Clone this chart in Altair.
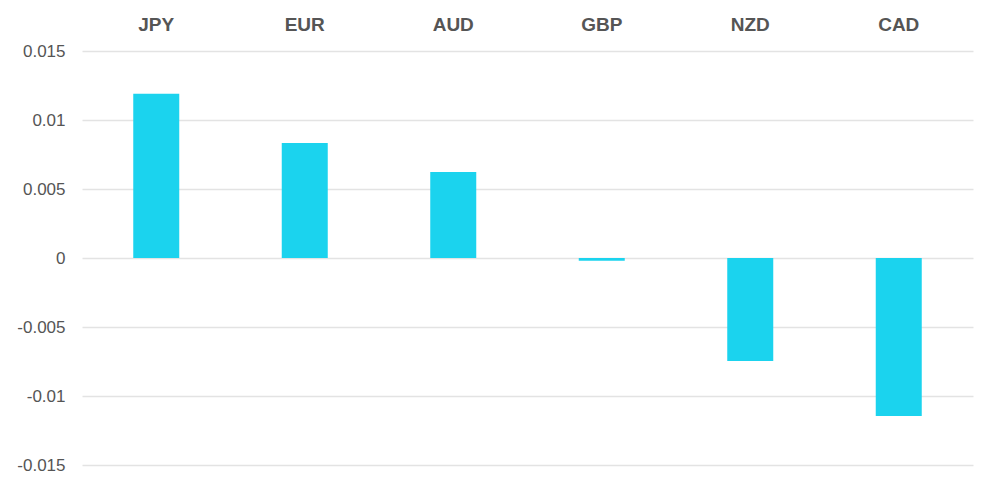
import altair as alt
import pandas as pd

currencies = ["JPY", "EUR", "AUD", "GBP", "NZD", "CAD"]
values = [0.0119, 0.00833, 0.00623, -0.0002, -0.00746, -0.01145]

df = pd.DataFrame({"currency": currencies, "value": values})

chart = alt.Chart(df).mark_bar(color="#1bd3ee", size=46).encode(
    x=alt.X("currency:N", sort=currencies,
            axis=alt.Axis(orient="top", title=None, labelAngle=0, domain=False, ticks=False,
                          labelFont="Liberation Sans", labelFontSize=19, labelFontWeight="bold",
                          labelColor="#555555", labelPadding=17)),
    y=alt.Y("value:Q", scale=alt.Scale(domain=[-0.015, 0.015], nice=False),
            axis=alt.Axis(title=None, values=[-0.015, -0.01, -0.005, 0, 0.005, 0.01, 0.015],
                          labelExpr="'' + datum.value",
                          domain=False, ticks=False, grid=True, gridColor="#e3e3e3", gridWidth=1.5,
                          labelFont="Liberation Sans", labelFontSize=17, labelColor="#555555",
                          labelPadding=17)),
).properties(
    width=891, height=414,
    autosize=alt.AutoSizeParams(type="none"),
    padding={"left": 82, "top": 51, "right": 27, "bottom": 28},
).configure_view(stroke=None)

chart.save("out.html", embed_options={"renderer": "svg", "actions": False})
